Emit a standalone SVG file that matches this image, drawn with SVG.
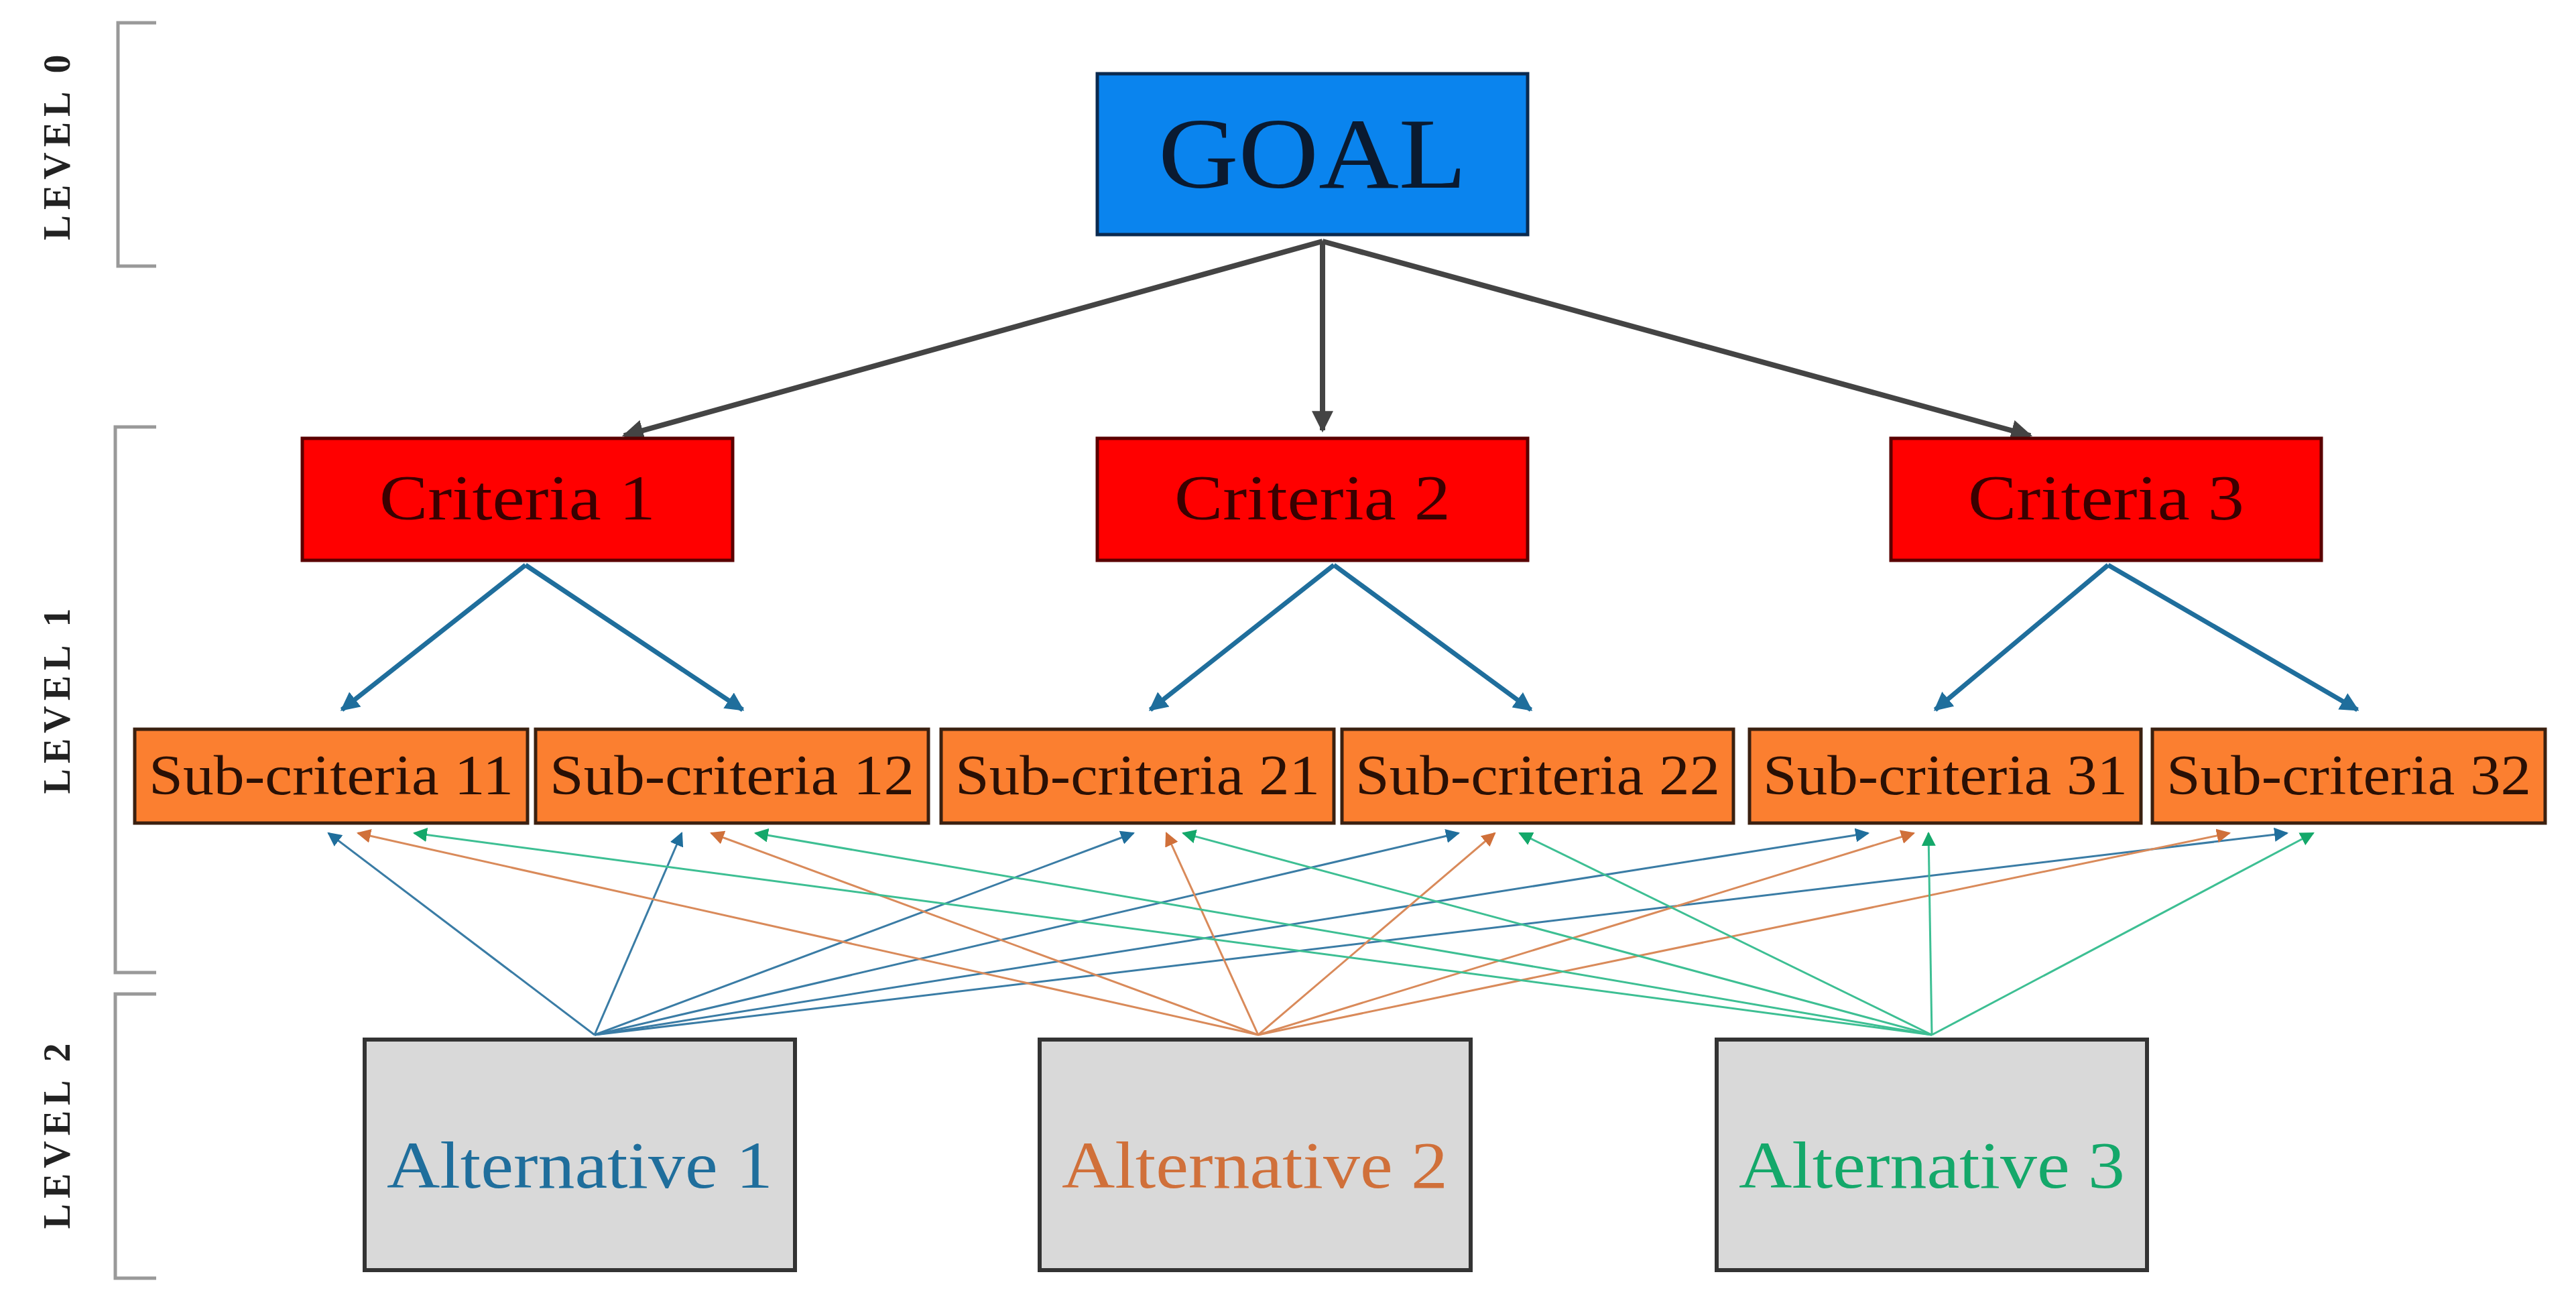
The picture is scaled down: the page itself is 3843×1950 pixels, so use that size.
<svg xmlns="http://www.w3.org/2000/svg" width="3843" height="1950" viewBox="0 0 3843 1950">
<style>
.lvl{font-family:"Liberation Serif",serif;font-weight:bold;font-size:56px;letter-spacing:8px;fill:#222}
.br{fill:none;stroke:#999;stroke-width:5}
.t{font-family:"Liberation Serif",serif;text-anchor:middle}
.g{stroke:#444;stroke-width:8;fill:none}
.c{stroke:#1f6e9c;stroke-width:7;fill:none}
.b{stroke:#3a7ca5;stroke-width:3;fill:none}
.o{stroke:#d98a5a;stroke-width:3;fill:none}
.e{stroke:#3dbf93;stroke-width:3;fill:none}
</style>
<defs>
<marker id="mg" viewBox="0 0 10 10" refX="9" refY="5" markerWidth="4" markerHeight="4" orient="auto" markerUnits="strokeWidth"><path d="M0,0L10,5L0,10z" fill="#444"/></marker>
<marker id="mc" viewBox="0 0 10 10" refX="9" refY="5" markerWidth="4" markerHeight="4" orient="auto" markerUnits="strokeWidth"><path d="M0,0L10,5L0,10z" fill="#1f6e9c"/></marker>
<marker id="mb" viewBox="0 0 10 10" refX="9" refY="5" markerWidth="7" markerHeight="7" orient="auto" markerUnits="strokeWidth"><path d="M0,0L10,5L0,10z" fill="#1f6e9c"/></marker>
<marker id="mo" viewBox="0 0 10 10" refX="9" refY="5" markerWidth="7" markerHeight="7" orient="auto" markerUnits="strokeWidth"><path d="M0,0L10,5L0,10z" fill="#d0703a"/></marker>
<marker id="me" viewBox="0 0 10 10" refX="9" refY="5" markerWidth="7" markerHeight="7" orient="auto" markerUnits="strokeWidth"><path d="M0,0L10,5L0,10z" fill="#14a86a"/></marker>
</defs>
<rect width="3843" height="1950" fill="#fff"/>
<g id="levels">
<path class="br" d="M233,34H176V397H233"/>
<path class="br" d="M233,637H172V1451H233"/>
<path class="br" d="M233,1483H172V1907H233"/>
<text class="lvl" transform="translate(104,216) rotate(-90)" text-anchor="middle">LEVEL 0</text>
<text class="lvl" transform="translate(104,1042) rotate(-90)" text-anchor="middle">LEVEL 1</text>
<text class="lvl" transform="translate(104,1691) rotate(-90)" text-anchor="middle">LEVEL 2</text>
</g>
<g id="connectors">
<line class="g" x1="1973" y1="360" x2="931" y2="650" marker-end="url(#mg)"/>
<line class="g" x1="1973" y1="360" x2="1973" y2="642" marker-end="url(#mg)"/>
<line class="g" x1="1973" y1="360" x2="3029" y2="650" marker-end="url(#mg)"/>
<line class="c" x1="784" y1="843" x2="510" y2="1059" marker-end="url(#mc)"/>
<line class="c" x1="784" y1="843" x2="1108" y2="1059" marker-end="url(#mc)"/>
<line class="c" x1="1990" y1="843" x2="1716" y2="1059" marker-end="url(#mc)"/>
<line class="c" x1="1990" y1="843" x2="2284" y2="1059" marker-end="url(#mc)"/>
<line class="c" x1="3145" y1="843" x2="2887" y2="1059" marker-end="url(#mc)"/>
<line class="c" x1="3145" y1="843" x2="3517" y2="1059" marker-end="url(#mc)"/>
<g marker-end="url(#mb)">
<line class="b" x1="887" y1="1544" x2="490" y2="1243"/>
<line class="b" x1="887" y1="1544" x2="1017" y2="1243"/>
<line class="b" x1="887" y1="1544" x2="1691" y2="1243"/>
<line class="b" x1="887" y1="1544" x2="2176" y2="1243"/>
<line class="b" x1="887" y1="1544" x2="2787" y2="1243"/>
<line class="b" x1="887" y1="1544" x2="3412" y2="1243"/>
</g>
<g marker-end="url(#mo)">
<line class="o" x1="1877" y1="1544" x2="534" y2="1243"/>
<line class="o" x1="1877" y1="1544" x2="1061" y2="1243"/>
<line class="o" x1="1877" y1="1544" x2="1740" y2="1243"/>
<line class="o" x1="1877" y1="1544" x2="2230" y2="1243"/>
<line class="o" x1="1877" y1="1544" x2="2855" y2="1243"/>
<line class="o" x1="1877" y1="1544" x2="3326" y2="1243"/>
</g>
<g marker-end="url(#me)">
<line class="e" x1="2882" y1="1544" x2="618" y2="1243"/>
<line class="e" x1="2882" y1="1544" x2="1127" y2="1243"/>
<line class="e" x1="2882" y1="1544" x2="1765" y2="1243"/>
<line class="e" x1="2882" y1="1544" x2="2267" y2="1243"/>
<line class="e" x1="2882" y1="1544" x2="2877" y2="1243"/>
<line class="e" x1="2882" y1="1544" x2="3451" y2="1243"/>
</g>
</g>
<g id="goal"><rect x="1637" y="110" width="642" height="240" fill="#0a84ee" stroke="#0a2a50" stroke-width="5"/><text class="t" x="1958" y="280" font-size="150" fill="#0a1a30" textLength="460" lengthAdjust="spacingAndGlyphs">GOAL</text></g>
<g id="c1"><rect x="451" y="654" width="642" height="182" fill="#ff0000" stroke="#5a0000" stroke-width="5"/><text class="t" x="772" y="775" font-size="95" fill="#3a0000" textLength="412" lengthAdjust="spacingAndGlyphs">Criteria 1</text></g>
<g id="c2"><rect x="1637" y="654" width="642" height="182" fill="#ff0000" stroke="#5a0000" stroke-width="5"/><text class="t" x="1958" y="775" font-size="95" fill="#3a0000" textLength="412" lengthAdjust="spacingAndGlyphs">Criteria 2</text></g>
<g id="c3"><rect x="2821" y="654" width="642" height="182" fill="#ff0000" stroke="#5a0000" stroke-width="5"/><text class="t" x="3142" y="775" font-size="95" fill="#3a0000" textLength="412" lengthAdjust="spacingAndGlyphs">Criteria 3</text></g>
<g id="s11"><rect x="201" y="1088" width="586" height="140" fill="#fb7f30" stroke="#3a2010" stroke-width="5"/><text class="t" x="494" y="1185" font-size="84" fill="#2a1005" textLength="544" lengthAdjust="spacingAndGlyphs">Sub-criteria 11</text></g>
<g id="s12"><rect x="799" y="1088" width="586" height="140" fill="#fb7f30" stroke="#3a2010" stroke-width="5"/><text class="t" x="1092" y="1185" font-size="84" fill="#2a1005" textLength="544" lengthAdjust="spacingAndGlyphs">Sub-criteria 12</text></g>
<g id="s21"><rect x="1404" y="1088" width="586" height="140" fill="#fb7f30" stroke="#3a2010" stroke-width="5"/><text class="t" x="1697" y="1185" font-size="84" fill="#2a1005" textLength="544" lengthAdjust="spacingAndGlyphs">Sub-criteria 21</text></g>
<g id="s22"><rect x="2002" y="1088" width="584" height="140" fill="#fb7f30" stroke="#3a2010" stroke-width="5"/><text class="t" x="2294" y="1185" font-size="84" fill="#2a1005" textLength="544" lengthAdjust="spacingAndGlyphs">Sub-criteria 22</text></g>
<g id="s31"><rect x="2610" y="1088" width="584" height="140" fill="#fb7f30" stroke="#3a2010" stroke-width="5"/><text class="t" x="2902" y="1185" font-size="84" fill="#2a1005" textLength="544" lengthAdjust="spacingAndGlyphs">Sub-criteria 31</text></g>
<g id="s32"><rect x="3211" y="1088" width="586" height="140" fill="#fb7f30" stroke="#3a2010" stroke-width="5"/><text class="t" x="3504" y="1185" font-size="84" fill="#2a1005" textLength="544" lengthAdjust="spacingAndGlyphs">Sub-criteria 32</text></g>
<g id="a1"><rect x="544" y="1551" width="642" height="344" fill="#d9d9d9" stroke="#333" stroke-width="6"/><text class="t" x="865" y="1772" font-size="100" fill="#1f6e9c" textLength="576" lengthAdjust="spacingAndGlyphs">Alternative 1</text></g>
<g id="a2"><rect x="1551" y="1551" width="643" height="344" fill="#d9d9d9" stroke="#333" stroke-width="6"/><text class="t" x="1872" y="1772" font-size="100" fill="#d0703a" textLength="576" lengthAdjust="spacingAndGlyphs">Alternative 2</text></g>
<g id="a3"><rect x="2561" y="1551" width="642" height="344" fill="#d9d9d9" stroke="#333" stroke-width="6"/><text class="t" x="2882" y="1772" font-size="100" fill="#14a86a" textLength="576" lengthAdjust="spacingAndGlyphs">Alternative 3</text></g>
</svg>
